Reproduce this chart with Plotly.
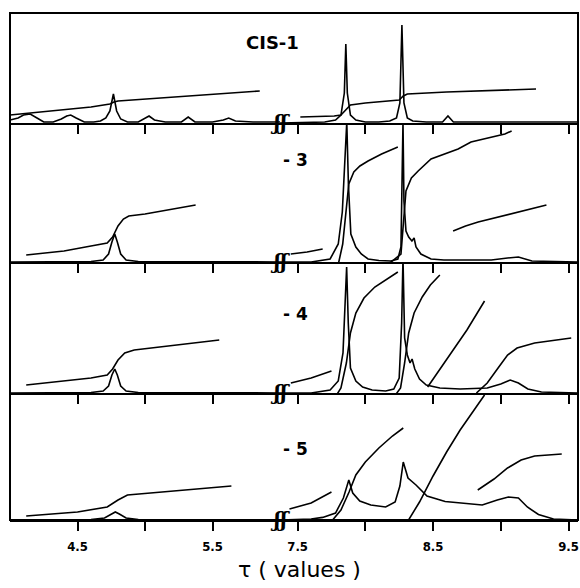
import plotly.graph_objects as go
from plotly.subplots import make_subplots

# ---------------- tick marks ----------------
left_tick_vals = [4.5, 5.0, 5.5]
left_tick_text = ["4.5", "", "5.5"]
right_tick_vals = [7.5, 8.0, 8.5, 9.0, 9.5]
right_tick_text = ["7.5", "", "8.5", "", "9.5"]
left_range = [4.0, 6.0]
right_range = [7.37, 9.57]

panel_labels = ["CIS-1", "- 3", "- 4", "- 5"]
panel_heights = [110, 139, 131, 127]   # intensity scale of each strip

# ---------------- CIS-1 ----------------
p1_left_spec_x = [4.0, 4.06, 4.1, 4.15, 4.2, 4.25, 4.32, 4.38, 4.42, 4.45, 4.49, 4.55, 4.62, 4.67, 4.71, 4.74,
                  4.766, 4.79, 4.82, 4.87, 4.95, 4.99, 5.03, 5.07, 5.15, 5.27, 5.32, 5.37, 5.5, 5.58, 5.62, 5.67, 5.8, 6.0]
p1_left_spec_y = [3, 5, 8, 9, 5, 1, 1, 4, 7, 8, 5, 1, 1, 2, 5, 12,
                  29, 12, 4, 1, 1, 4, 7, 3, 1, 1, 6, 1, 1, 3, 5, 2, 1, 1]
p1_left_int_x = [4.0, 4.3, 4.6, 4.74, 4.77, 4.8, 5.2, 5.6, 5.85]
p1_left_int_y = [8, 12, 16, 19, 21, 22, 26, 30, 32]
p1_right_spec_x = [7.37, 7.6, 7.7, 7.78, 7.82, 7.845, 7.856, 7.867, 7.89, 7.93, 8.0, 8.1, 8.18, 8.23, 8.255,
                   8.27, 8.285, 8.31, 8.35, 8.45, 8.57, 8.61, 8.65, 9.0, 9.57]
p1_right_spec_y = [0, 1, 1, 3, 8, 30, 79, 30, 8, 3, 1, 1, 2, 5, 20,
                   98, 20, 5, 2, 1, 1, 7, 1, 1, 1]
p1_right_int_x = [7.52, 7.77, 7.82, 7.86, 7.89, 8.0, 8.25, 8.28, 8.31, 8.6, 9.26]
p1_right_int_y = [6, 7, 8, 14, 18, 20, 23, 27, 29, 31, 34]

# ---------------- -3 ----------------
p2_left_spec_x = [4.0, 4.6, 4.69, 4.73, 4.755, 4.776, 4.795, 4.82, 4.86, 4.95, 6.0]
p2_left_spec_y = [0, 0.5, 2, 8, 20, 28, 20, 8, 2, 0.5, 0]
p2_left_int_x = [4.12, 4.4, 4.6, 4.72, 4.76, 4.80, 4.84, 4.88, 5.0, 5.375]
p2_left_int_y = [7, 11, 16, 19, 25, 36, 43, 46, 48, 57]
p2_right_spec_x = [7.37, 7.6, 7.74, 7.8, 7.83, 7.84, 7.863, 7.875, 7.893, 7.93, 7.97, 8.02, 8.1, 8.19, 8.24,
                   8.263, 8.27, 8.278, 8.285, 8.3, 8.32, 8.344, 8.36, 8.374, 8.41, 8.485, 8.58, 8.93, 9.05,
                   9.13, 9.23, 9.57]
p2_right_spec_y = [0, 0, 3, 18, 50, 78, 140, 78, 28, 15, 8, 3, 1.5, 1, 3,
                   15, 78, 140, 61, 31, 25, 21, 24, 15, 8, 3, 2, 2, 4,
                   5, 1, 0]
p2_int_a_x = [7.45, 7.57, 7.685]
p2_int_a_y = [8, 10, 13]
p2_int_b_x = [7.744, 7.796, 7.833, 7.855, 7.878, 7.915, 7.96, 8.02, 8.12, 8.24]
p2_int_b_y = [-14, -5, 18, 45, 78, 90, 96, 101, 108, 115]
p2_int_c_x = [8.056, 8.19, 8.263, 8.285, 8.30, 8.34, 8.39, 8.485, 8.685, 8.78, 9.03, 9.08]
p2_int_c_y = [-10, 0, 8, 45, 71, 84, 91, 103, 113, 120, 128, 131]
p2_int_d_x = [8.648, 8.74, 8.833, 8.95, 9.056, 9.2, 9.337]
p2_int_d_y = [31, 36, 40, 44, 48, 53, 57]

# ---------------- -4 ----------------
p3_left_spec_x = [4.0, 4.6, 4.69, 4.73, 4.755, 4.776, 4.795, 4.82, 4.86, 4.95, 6.0]
p3_left_spec_y = [0, 0.5, 2, 7, 18, 24, 18, 7, 2, 0.5, 0]
p3_left_int_x = [4.12, 4.4, 4.6, 4.72, 4.76, 4.80, 4.85, 4.92, 5.1, 5.55]
p3_left_int_y = [8, 12, 15, 18, 24, 33, 40, 43, 46, 53]
p3_right_spec_x = [7.37, 7.6, 7.74, 7.8, 7.835, 7.85, 7.862, 7.874, 7.89, 7.93, 7.98, 8.05, 8.15, 8.21, 8.25,
                   8.268, 8.278, 8.29, 8.31, 8.33, 8.345, 8.365, 8.40, 8.45, 8.55, 8.7, 8.9, 9.0, 9.07, 9.13,
                   9.2, 9.3, 9.57]
p3_right_spec_y = [0, 0, 3, 12, 40, 80, 126, 70, 25, 12, 6, 3, 2, 4, 15,
                   70, 135, 55, 38, 30, 34, 24, 14, 8, 5, 4, 5, 9, 13, 10,
                   4, 1, 0]
p3_int_a_x = [7.45, 7.6, 7.75]
p3_int_a_y = [10, 15, 22]
p3_int_b_x = [7.76, 7.82, 7.86, 7.89, 7.93, 7.99, 8.07, 8.15, 8.24]
p3_int_b_y = [-8, 5, 30, 60, 80, 95, 106, 113, 121]
p3_int_c_x = [8.2, 8.26, 8.29, 8.32, 8.36, 8.42, 8.48, 8.55]
p3_int_c_y = [-6, 5, 30, 60, 80, 96, 108, 118]
p3_int_d_x = [8.46, 8.6, 8.75, 8.88]
p3_int_d_y = [6, 33, 63, 92]
p3_int_e_x = [8.82, 8.9, 8.98, 9.05, 9.12, 9.25, 9.52]
p3_int_e_y = [0, 10, 25, 38, 45, 50, 55]

# ---------------- -5 ----------------
p4_left_spec_x = [4.0, 4.6, 4.7, 4.75, 4.78, 4.81, 4.86, 4.95, 6.0]
p4_left_spec_y = [0, 0.5, 2, 6, 8, 6, 2, 0.5, 0]
p4_left_int_x = [4.12, 4.5, 4.72, 4.80, 4.87, 5.03, 5.3, 5.64]
p4_left_int_y = [4, 8, 13, 20, 25, 27, 30, 34]
p4_right_spec_x = [7.37, 7.6, 7.685, 7.78, 7.838, 7.878, 7.907, 7.959, 8.04, 8.15, 8.22, 8.255, 8.28, 8.315,
                   8.374, 8.455, 8.589, 8.73, 8.863, 8.974, 9.056, 9.13, 9.196, 9.278, 9.389, 9.57]
p4_right_spec_y = [0, 1, 2.6, 7, 22, 40, 27, 19, 15, 13, 18, 34, 58, 42,
                   35, 24, 18.5, 17, 15, 20, 23, 22, 13, 5.5, 1, 0]
p4_int_a_x = [7.44, 7.6, 7.75]
p4_int_a_y = [11, 17, 28]
p4_int_b_x = [7.74, 7.82, 7.88, 7.93, 8.0, 8.1, 8.2, 8.28]
p4_int_b_y = [-3, 10, 28, 45, 58, 72, 84, 92]
p4_int_c_x = [8.31, 8.4, 8.5, 8.6, 8.7, 8.8, 8.88]
p4_int_c_y = [-2, 18, 44, 68, 90, 110, 125]
p4_int_d_x = [8.83, 8.95, 9.05, 9.15, 9.25, 9.45]
p4_int_d_y = [30, 41, 52, 60, 64, 66]

curves = [
    (1, 1, p1_left_spec_x, p1_left_spec_y), (1, 1, p1_left_int_x, p1_left_int_y),
    (1, 2, p1_right_spec_x, p1_right_spec_y), (1, 2, p1_right_int_x, p1_right_int_y),
    (2, 1, p2_left_spec_x, p2_left_spec_y), (2, 1, p2_left_int_x, p2_left_int_y),
    (2, 2, p2_right_spec_x, p2_right_spec_y), (2, 2, p2_int_a_x, p2_int_a_y),
    (2, 2, p2_int_b_x, p2_int_b_y), (2, 2, p2_int_c_x, p2_int_c_y), (2, 2, p2_int_d_x, p2_int_d_y),
    (3, 1, p3_left_spec_x, p3_left_spec_y), (3, 1, p3_left_int_x, p3_left_int_y),
    (3, 2, p3_right_spec_x, p3_right_spec_y), (3, 2, p3_int_a_x, p3_int_a_y),
    (3, 2, p3_int_b_x, p3_int_b_y), (3, 2, p3_int_c_x, p3_int_c_y), (3, 2, p3_int_d_x, p3_int_d_y),
    (3, 2, p3_int_e_x, p3_int_e_y),
    (4, 1, p4_left_spec_x, p4_left_spec_y), (4, 1, p4_left_int_x, p4_left_int_y),
    (4, 2, p4_right_spec_x, p4_right_spec_y), (4, 2, p4_int_a_x, p4_int_a_y),
    (4, 2, p4_int_b_x, p4_int_b_y), (4, 2, p4_int_c_x, p4_int_c_y), (4, 2, p4_int_d_x, p4_int_d_y),
]

W, H = 580, 588
fig = make_subplots(rows=4, cols=2, column_widths=[270, 298], row_heights=panel_heights,
                    horizontal_spacing=0, vertical_spacing=0)

for r, c, xs, ys in curves:
    fig.add_trace(go.Scatter(x=xs, y=ys, mode="lines", line=dict(color="black", width=1.6),
                             showlegend=False, hoverinfo="skip"), row=r, col=c)

tick_font = dict(family="DejaVu Sans Condensed, DejaVu Sans", size=13, color="black", weight="bold")
for r in range(1, 5):
    for c in (1, 2):
        fig.update_xaxes(row=r, col=c,
                         range=left_range if c == 1 else right_range,
                         tickvals=left_tick_vals if c == 1 else right_tick_vals,
                         ticktext=left_tick_text if c == 1 else right_tick_text,
                         showticklabels=(r == 4), ticks="outside", ticklen=9, tickwidth=1.5,
                         tickcolor="black", showline=True, linecolor="black", linewidth=2,
                         showgrid=False, zeroline=False, tickfont=tick_font, fixedrange=True,
                         ticklabelstandoff=4, automargin=False)
        fig.update_yaxes(row=r, col=c, range=[0, panel_heights[r - 1]], showticklabels=False,
                         showgrid=False, zeroline=False, showline=False, ticks="", fixedrange=True,
                         automargin=False)

annotations = []
label_pos = [(0.462, 0.941), (0.502, 0.710), (0.502, 0.406), (0.502, 0.14)]
label_sizes = [18, 17, 17, 17]
for lab, (ax, ay), fs in zip(panel_labels, label_pos, label_sizes):
    annotations.append(dict(text=lab, x=ax, y=ay, xref="paper", yref="paper", showarrow=False,
                            xanchor="center", yanchor="middle",
                            font=dict(family="DejaVu Sans", size=fs, color="black", weight="bold")))

# break marks on each baseline
for r in range(1, 5):
    yname = "yaxis" if r == 1 else "yaxis%d" % (2 * r - 1)
    y0 = fig.layout[yname].domain[0]
    annotations.append(dict(text="<i>ʃʃ</i>", x=270 / 568, y=y0, xref="paper", yref="paper",
                            showarrow=False, xanchor="center", yanchor="middle",
                            font=dict(family="DejaVu Serif", size=20, color="black", weight="bold")))

annotations.append(dict(text="τ ( values )", x=0.51, y=-0.098, xref="paper", yref="paper",
                        showarrow=False, xanchor="center", yanchor="middle",
                        font=dict(family="DejaVu Sans", size=22, color="black")))

fig.update_layout(width=W, height=H, margin=dict(l=10, r=2, t=13, b=68),
                  paper_bgcolor="white", plot_bgcolor="white", annotations=annotations,
                  shapes=[dict(type="rect", xref="paper", yref="paper", x0=0, x1=1, y0=0, y1=1,
                               line=dict(color="black", width=2))])

# remove the default page margin so the 580x588 figure fills the window exactly
fig.write_html("out.html", config={"displayModeBar": False},
               post_script="document.documentElement.style.margin='0';document.body.style.margin='0';"
                           "document.body.style.overflow='hidden';")
